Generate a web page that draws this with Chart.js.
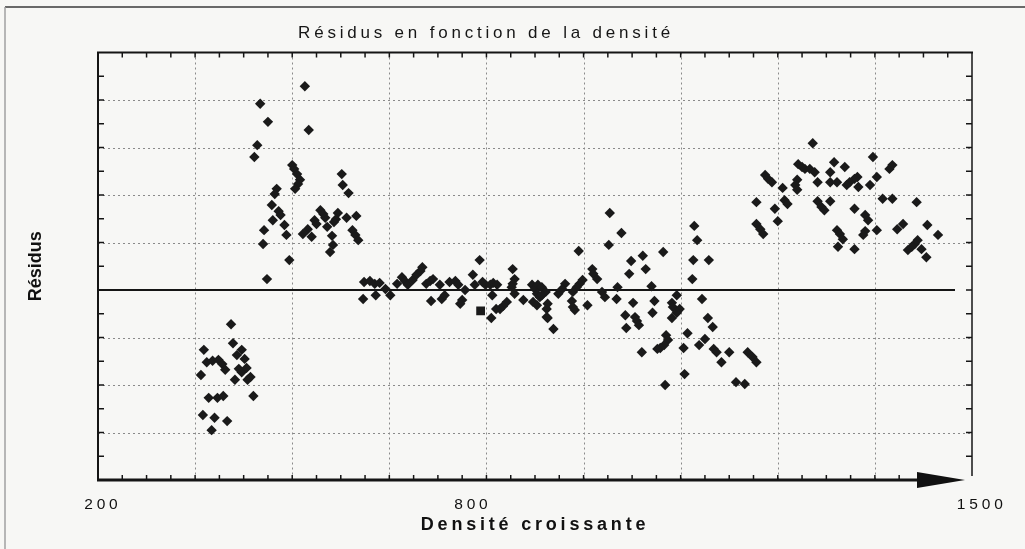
<!DOCTYPE html>
<html lang="fr">
<head>
<meta charset="utf-8">
<title>Résidus en fonction de la densité</title>
<script src="https://cdn.jsdelivr.net/npm/chart.js@4.4.1/dist/chart.umd.min.js"></script>
<style>
    html, body { margin: 0; padding: 0; background: #f7f7f5; }
    #wrap { width: 1025px; height: 549px; }
</style>
</head>
<body>
<div id="wrap"><canvas id="residusChart" width="1025" height="549"></canvas></div>
<script>
// x : position le long de l'axe des densités (0 = 200, 9 = bout de la flèche)
const xTickValues = [0.05, 3.86, 9.1];
const xTickLabels = ['200', '800', '1500'];

// Nuage haut gauche
const hautGaucheX = [2.13, 1.67, 1.75, 2.17, 1.64, 1.61, 2.00, 2.02, 2.05, 2.08,
    2.06, 2.03, 2.51, 2.52, 2.58, 1.84, 1.82, 1.79, 1.86, 1.88,
    1.80, 1.92, 1.71, 1.94, 1.70, 2.29, 2.32, 2.34, 2.23, 2.25,
    2.16, 2.11, 2.36, 2.20, 2.47, 2.45, 2.43, 2.56, 2.41, 2.42,
    2.39, 2.66, 2.62, 2.65, 2.68, 1.97, 1.74];
const hautGaucheY = [4.29, 3.92, 3.54, 3.37, 3.05, 2.80, 2.63, 2.55, 2.44, 2.32,
    2.23, 2.13, 2.44, 2.21, 2.04, 2.13, 2.02, 1.79, 1.66, 1.58,
    1.47, 1.37, 1.26, 1.16, 0.97, 1.68, 1.60, 1.52, 1.47, 1.39,
    1.28, 1.18, 1.33, 1.12, 1.62, 1.49, 1.43, 1.52, 1.14, 0.95,
    0.80, 1.56, 1.26, 1.16, 1.05, 0.63, 0.23];

// Nuage bas gauche
const basGaucheX = [1.37, 1.39, 1.09, 1.48, 1.43, 1.51, 1.12, 1.18, 1.24, 1.28,
    1.31, 1.45, 1.48, 1.53, 1.06, 1.57, 1.54, 1.41, 1.60, 1.14,
    1.23, 1.29, 1.08, 1.20, 1.33, 1.17];
const basGaucheY = [-0.72, -1.12, -1.26, -1.26, -1.37, -1.45, -1.52, -1.49, -1.47, -1.56,
    -1.68, -1.66, -1.73, -1.64, -1.79, -1.83, -1.89, -1.89, -2.23, -2.27,
    -2.27, -2.23, -2.63, -2.69, -2.76, -2.95];

// Bande centrale autour de zéro
const centreX = [2.74, 2.80, 2.85, 2.90, 2.73, 2.86, 2.96, 3.01, 3.08, 3.13,
    3.16, 3.19, 3.24, 3.28, 3.32, 3.34, 3.38, 3.42, 3.45, 3.43,
    3.52, 3.54, 3.57, 3.62, 3.68, 3.71, 3.78, 3.75, 3.73, 3.86,
    3.88, 3.93, 3.96, 3.99, 4.04, 4.07, 4.11, 4.06, 4.05, 4.21,
    4.17, 4.14, 4.10, 4.27, 4.29, 4.27, 4.26, 4.29, 4.38, 4.47,
    4.50, 4.53, 4.57, 4.52, 4.55, 4.48, 4.52, 4.62];
const centreY = [0.17, 0.19, 0.13, 0.15, -0.19, -0.11, 0.02, -0.11, 0.13, 0.27,
    0.19, 0.11, 0.21, 0.32, 0.40, 0.48, 0.13, 0.19, 0.23, -0.23,
    0.11, -0.19, -0.11, 0.17, 0.19, 0.11, 0.00, -0.21, -0.29, 0.32,
    0.11, 0.63, 0.17, 0.11, 0.11, 0.15, 0.11, -0.11, -0.59, -0.25,
    -0.34, -0.40, -0.40, 0.44, 0.23, 0.13, 0.06, -0.08, -0.21, 0.11,
    0.02, 0.11, 0.06, -0.08, -0.15, -0.25, -0.32, -0.57];

// Nuage descendant au milieu droit
const milieuDroitX = [5.27, 5.39, 6.14, 6.17, 4.95, 5.26, 5.82, 5.61, 5.49, 5.64,
    5.47, 6.13, 6.29, 6.12, 5.09, 5.10, 5.14, 4.99, 4.96, 4.93,
    4.81, 4.78, 4.74, 4.61, 4.57, 4.89, 5.19, 5.22, 5.35, 5.34,
    5.70, 5.96, 5.04, 4.88, 4.89, 4.91, 4.63, 4.62, 4.63, 4.69,
    5.51, 5.73, 5.71, 5.91, 5.92, 5.99, 5.96, 6.22, 5.43, 5.53,
    5.55, 5.57, 5.44, 5.91, 6.28, 6.33, 5.85, 5.87, 5.83, 5.79,
    5.76, 6.07, 5.60, 6.03, 6.19, 6.25, 6.34, 6.37, 6.50, 6.42,
    6.04, 5.84, 6.57, 6.66, 6.69, 6.74, 6.78];
const milieuDroitY = [1.62, 1.20, 1.35, 1.05, 0.82, 0.95, 0.80, 0.72, 0.61, 0.44,
    0.34, 0.63, 0.63, 0.23, 0.44, 0.34, 0.23, 0.21, 0.13, 0.06,
    0.13, 0.02, -0.08, -0.04, -0.11, -0.04, -0.04, -0.15, 0.06, -0.19,
    0.08, -0.11, -0.32, -0.23, -0.36, -0.42, -0.29, -0.40, -0.59, -0.82,
    -0.27, -0.23, -0.48, -0.27, -0.36, -0.40, -0.48, -0.19, -0.53, -0.57,
    -0.65, -0.74, -0.80, -0.59, -0.59, -0.78, -0.95, -1.05, -1.16, -1.22,
    -1.24, -0.91, -1.31, -1.22, -1.16, -1.03, -1.24, -1.31, -1.31, -1.52,
    -1.77, -2.00, -1.94, -1.98, -1.31, -1.41, -1.52];

// Nuage haut droit
const hautDroitX = [7.36, 7.98, 7.21, 7.25, 7.28, 7.33, 7.38, 7.58, 7.69, 7.54,
    6.87, 6.90, 6.94, 8.15, 8.18, 8.02, 7.82, 7.79, 7.74, 7.71,
    7.41, 7.20, 7.18, 7.54, 7.61, 7.83, 7.95, 7.05, 7.20, 7.07,
    7.10, 6.78, 6.97, 7.41, 7.45, 7.48, 7.54, 8.08, 8.18, 8.43,
    7.79, 7.00, 7.90, 7.93, 6.78, 6.82, 6.85, 8.29, 8.23, 8.54,
    7.61, 7.64, 7.67, 7.62, 7.90, 7.88, 8.02, 7.79, 8.65, 8.44,
    8.41, 8.38, 8.34, 8.48, 8.53];
const hautDroitY = [3.09, 2.80, 2.65, 2.59, 2.55, 2.55, 2.48, 2.69, 2.59, 2.48,
    2.42, 2.34, 2.27, 2.55, 2.63, 2.38, 2.38, 2.34, 2.27, 2.21,
    2.27, 2.32, 2.21, 2.27, 2.27, 2.17, 2.21, 2.15, 2.11, 1.89,
    1.81, 1.85, 1.71, 1.87, 1.75, 1.68, 1.87, 1.92, 1.92, 1.85,
    1.71, 1.45, 1.58, 1.47, 1.39, 1.28, 1.18, 1.39, 1.28, 1.37,
    1.26, 1.18, 1.07, 0.91, 1.24, 1.16, 1.26, 0.86, 1.16, 1.05,
    0.97, 0.91, 0.84, 0.86, 0.69];

// Le seul point carré
const carreX = [3.94];
const carreY = [-0.44];

const toPoints = (xs, ys) => xs.map((x, i) => ({ x: x, y: ys[i] }));

const losanges = [
    ...toPoints(hautGaucheX, hautGaucheY),
    ...toPoints(basGaucheX, basGaucheY),
    ...toPoints(centreX, centreY),
    ...toPoints(milieuDroitX, milieuDroitY),
    ...toPoints(hautDroitX, hautDroitY)
];

function line(ctx, x1, y1, x2, y2) {
    ctx.beginPath();
    ctx.moveTo(x1, y1);
    ctx.lineTo(x2, y2);
    ctx.stroke();
}

// Cadre, graduations internes, quadrillage pointillé et flèche de l'axe x
const cadre = {
    id: 'cadre',
    beforeDraw(chart) {
        // texte du scan étiré horizontalement
        chart.ctx.letterSpacing = '3.8px';
    },
    beforeDatasetsDraw(chart) {
        const { ctx, chartArea: a, scales: { x, y } } = chart;
        ctx.save();
        ctx.strokeStyle = '#8a8a8a';
        ctx.lineWidth = 1;
        ctx.setLineDash([2, 3]);
        for (let v = x.min + 1; v < x.max; v++) {
            const px = Math.round(x.getPixelForValue(v)) + 0.5;
            line(ctx, px, a.top, px, a.bottom);
        }
        y.ticks.forEach(t => {
            if (t.value === 0 || t.value <= y.min || t.value >= y.max) return;
            const py = Math.round(y.getPixelForValue(t.value)) + 0.5;
            line(ctx, a.left, py, a.right, py);
        });
        // ligne du zéro
        ctx.setLineDash([]);
        ctx.strokeStyle = '#151515';
        ctx.lineWidth = 2;
        const y0 = y.getPixelForValue(0);
        line(ctx, a.left, y0, a.right - 17, y0);
        ctx.restore();
    },
    afterDatasetsDraw(chart) {
        chart.ctx.letterSpacing = '0px';
    },
    afterDraw(chart) {
        const { ctx, chartArea: a, scales: { x, y } } = chart;
        ctx.save();
        ctx.letterSpacing = '0px';

        // bord de la page scannée
        ctx.strokeStyle = '#3a3a3a';
        ctx.lineWidth = 1.5;
        line(ctx, 5, 7, chart.width, 7);
        ctx.strokeStyle = '#a0a0a0';
        line(ctx, 5, 7, 5, chart.height);

        ctx.strokeStyle = '#151515';
        // graduations
        ctx.lineWidth = 1.5;
        for (let k = 1; k < (x.max - x.min) * 4; k++) {
            const px = x.getPixelForValue(x.min + k / 4);
            line(ctx, px, a.top, px, a.top + 5);
            if (px < a.right - 60) line(ctx, px, a.bottom, px, a.bottom - 5);
        }
        for (let k = 1; k < (y.max - y.min) * 2; k++) {
            const py = y.getPixelForValue(y.min + k / 2);
            line(ctx, a.left, py, a.left + 6, py);
            line(ctx, a.right, py, a.right - 6, py);
        }

        // cadre
        ctx.lineWidth = 2;
        line(ctx, a.left - 1, a.top, a.right + 1, a.top);
        line(ctx, a.left, a.top, a.left, a.bottom);
        ctx.lineWidth = 1.5;
        line(ctx, a.right, a.top, a.right, a.bottom - 4);

        // axe x avec flèche
        ctx.lineWidth = 3;
        line(ctx, a.left - 1, a.bottom, a.right - 50, a.bottom);
        ctx.fillStyle = '#111';
        ctx.beginPath();
        ctx.moveTo(a.right - 55, a.bottom - 8);
        ctx.lineTo(a.right - 7, a.bottom);
        ctx.lineTo(a.right - 55, a.bottom + 8);
        ctx.closePath();
        ctx.fill();
        ctx.restore();
    }
};

Chart.defaults.font.family = "'Liberation Sans', Arial, sans-serif";
Chart.defaults.color = '#111';

const ctx = document.getElementById('residusChart').getContext('2d');
new Chart(ctx, {
    type: 'scatter',
    data: {
        datasets: [{
            label: 'Résidus',
            data: losanges,
            pointStyle: 'rectRot',
            pointRadius: 5.2,
            pointHoverRadius: 5.2,
            backgroundColor: '#1a1a1a',
            borderWidth: 0
        }, {
            label: 'Résidus (carré)',
            data: toPoints(carreX, carreY),
            pointStyle: 'rect',
            pointRadius: 6.2,
            pointHoverRadius: 6.2,
            backgroundColor: '#1a1a1a',
            borderWidth: 0
        }]
    },
    options: {
        responsive: false,
        animation: false,
        layout: { padding: { left: 0, right: 53, top: 0, bottom: 0 } },
        plugins: {
            legend: { display: false },
            tooltip: { enabled: false },
            title: {
                display: true,
                text: 'Résidus en fonction de la densité',
                font: { size: 17, weight: 'normal' },
                color: '#161616',
                padding: { top: 23, bottom: 9.1 }
            }
        },
        scales: {
            x: {
                type: 'linear',
                min: 0,
                max: 9,
                afterBuildTicks: scale => {
                    scale.ticks = xTickValues.map(v => ({ value: v }));
                },
                afterFit: scale => { scale.height = 69; },
                grid: { display: false },
                border: { display: false },
                ticks: {
                    autoSkip: false,
                    maxRotation: 0,
                    padding: 7,
                    font: { size: 15.5 },
                    callback: (value, index) => xTickLabels[index]
                },
                title: {
                    display: true,
                    text: 'Densité croissante',
                    font: { size: 18, weight: 'bold' },
                    padding: { top: 0, bottom: 13 }
                }
            },
            y: {
                min: -4,
                max: 5,
                afterFit: scale => { scale.width = 98; },
                // titre dessiné après les points, sans espacement des lettres
                grid: { display: false, z: 1 },
                border: { display: false },
                ticks: { display: false, stepSize: 1 },
                title: {
                    display: true,
                    text: 'Résidus',
                    font: { size: 18, weight: 'bold' },
                    padding: { top: 25 }
                }
            }
        }
    },
    plugins: [cadre]
});
</script>
</body>
</html>
